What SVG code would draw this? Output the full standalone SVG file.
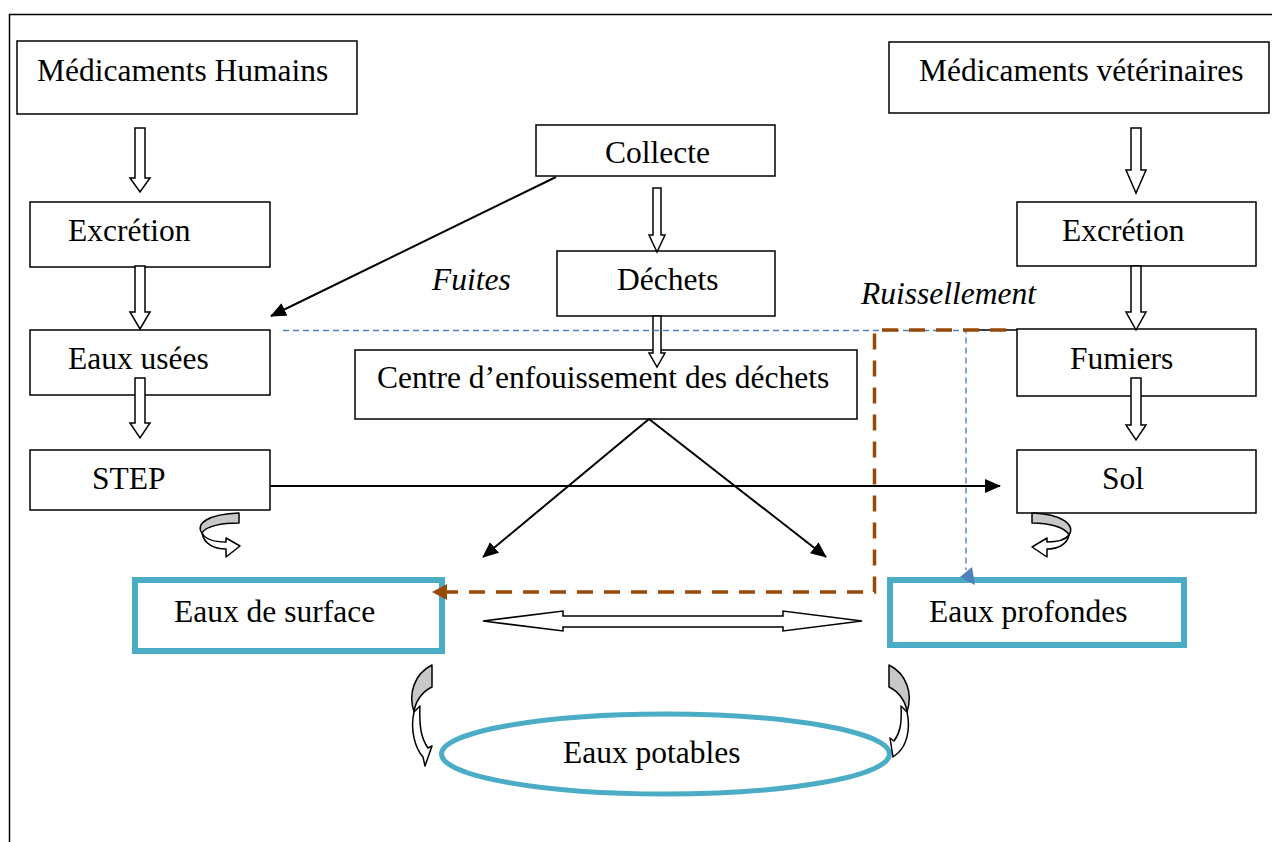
<svg xmlns="http://www.w3.org/2000/svg" width="1272" height="842" viewBox="0 0 1272 842">
<style>
.box{fill:#fff;stroke:#000;stroke-width:1.5}
.water{fill:#fff;stroke:#4bacc6;stroke-width:6}
.t{font-family:"Liberation Serif","Times New Roman",serif;font-size:31.5px;fill:#000}
.it{font-style:italic}
.blk{fill:#fff;stroke:#000;stroke-width:1.5;stroke-linejoin:miter}
.curv{stroke:#000;stroke-width:1.5;stroke-linejoin:round}
.line{fill:none;stroke:#000;stroke-width:2}
</style>
<defs>
<marker id="ah" markerWidth="16" markerHeight="14" viewBox="0 0 16 14" refX="15" refY="7" orient="auto" markerUnits="userSpaceOnUse">
<path d="M0,0 L16,7 L0,14 Z" fill="#000"/>
</marker>
</defs>
<rect width="1272" height="842" fill="#fff"/>
<path d="M9.5,842 L9.5,14.5 L1272,14.5" fill="none" stroke="#000" stroke-width="1.5"/>

<g id="n-med-hum"><rect class="box" x="17" y="41" width="340" height="73"/><text class="t" x="37" y="81">Médicaments Humains</text></g>
<g id="n-excr-l"><rect class="box" x="30" y="202" width="240" height="65"/><text class="t" x="68" y="241">Excrétion</text></g>
<g id="n-eaux-usees"><rect class="box" x="30" y="330" width="240" height="65"/><text class="t" x="68" y="369">Eaux usées</text></g>
<g id="n-step"><rect class="box" x="30" y="450" width="240" height="60"/><text class="t" x="92" y="489">STEP</text></g>

<g id="n-collecte"><rect class="box" x="536" y="125" width="239" height="51"/><text class="t" x="605" y="163">Collecte</text></g>
<g id="n-dechets"><rect class="box" x="557" y="251" width="218" height="65"/><text class="t" x="617" y="290">Déchets</text></g>
<g id="n-centre"><rect class="box" x="355" y="350" width="502" height="69"/><text class="t" x="377" y="388">Centre d’enfouissement des déchets</text></g>

<g id="n-med-vet"><rect class="box" x="889" y="42" width="380" height="71"/><text class="t" x="919" y="81">Médicaments vétérinaires</text></g>
<g id="n-excr-r"><rect class="box" x="1017" y="202" width="239" height="64"/><text class="t" x="1062" y="241">Excrétion</text></g>
<g id="n-fumiers"><rect class="box" x="1017" y="329" width="239" height="67"/><text class="t" x="1070" y="369">Fumiers</text></g>
<g id="n-sol"><rect class="box" x="1017" y="450" width="239" height="63"/><text class="t" x="1102" y="489">Sol</text></g>

<g id="n-eaux-surface"><rect class="water" x="135" y="580" width="307" height="71"/><text class="t" x="174" y="622">Eaux de surface</text></g>
<g id="n-eaux-profondes"><rect class="water" x="890" y="580" width="294" height="65"/><text class="t" x="929" y="622">Eaux profondes</text></g>
<g id="n-eaux-potables"><ellipse cx="665.5" cy="754" rx="224" ry="40" fill="#fff" stroke="#4bacc6" stroke-width="5"/><text class="t" x="563" y="763">Eaux potables</text></g>

<g id="labels">
<text class="t it" x="432" y="290">Fuites</text>
<text class="t it" x="861" y="304">Ruissellement</text>
</g>

<g id="connectors">
<path class="blk" d="M135,128 H145 V178 H150 L140,192 L130,178 H135 Z"/>
<path class="blk" d="M135,266 H145 V312 H150 L140,329 L130,312 H135 Z"/>
<path class="blk" d="M135,378 H145 V423 H150 L140,438 L130,423 H135 Z"/>
<path class="blk" d="M653,188 H661 V235 H665 L657,252 L649,235 H653 Z"/>
<path class="blk" d="M653,316 H661 V353 H665 L657,367 L649,353 H653 Z"/>
<path class="blk" d="M1131,128 H1141 V170 H1146 L1136,193 L1126,170 H1131 Z"/>
<path class="blk" d="M1131,266 H1141 V312 H1146 L1136,330 L1126,312 H1131 Z"/>
<path class="blk" d="M1131,378 H1141 V425 H1146 L1136,440 L1126,425 H1131 Z"/>
<path class="blk" d="M483,621 L563,611 L563,616 L783,616 L783,611 L862,621 L783,631 L783,627 L563,627 L563,631 Z"/>

<line class="line" x1="556" y1="177" x2="271" y2="316" marker-end="url(#ah)"/>
<line class="line" x1="270" y1="486" x2="1000" y2="486" marker-end="url(#ah)"/>
<line class="line" x1="649" y1="419" x2="483" y2="557" marker-end="url(#ah)"/>
<line class="line" x1="649" y1="419" x2="826" y2="557" marker-end="url(#ah)"/>

<path d="M283,330.5 H966 V570" fill="none" stroke="#4f81bd" stroke-width="1.4" stroke-dasharray="6,4"/>
<path d="M960,577 L972,567 L975,585 Z" fill="#4f81bd"/>

<line x1="975" y1="330" x2="1017" y2="330" stroke="#000" stroke-width="1.3"/>
<path d="M1006,330 H874.5 V592 H447" fill="none" stroke="#984807" stroke-width="3.5" stroke-dasharray="16,11"/>
<path d="M432,592 L447,584 L447,600 Z" fill="#984807"/>

<path class="curv" fill="#c8c8c8" d="M239,513 L239,523 C222,523 206,526 202,533 C195,524 208,514 239,513 Z"/>
<path class="curv" fill="#fff" d="M202,533 C204,544 214,549 226,549 L226,557 L240,546 L226,538 L226,542 C214,542 205,539 202,533 Z"/>

<path class="curv" fill="#c8c8c8" d="M1032,513 L1032,523 C1049,523 1065,527 1069,535 C1076,525 1062,514 1032,513 Z"/>
<path class="curv" fill="#fff" d="M1069,535 C1067,545 1057,549 1047,549 L1047,557 L1032,547 L1047,538 L1047,542 C1058,542 1066,539 1069,535 Z"/>

<path class="curv" fill="#c8c8c8" d="M432,665 L432,687 C421,692 415,703 414,712 C408,694 414,674 432,665 Z"/>
<path class="curv" fill="#fff" d="M414,712 C410,730 415,748 423,757 L425,766 L432,746 L428,748 C421,738 419,726 420,706 C418,708 416,710 414,712 Z"/>

<path class="curv" fill="#c8c8c8" d="M889,665 L889,687 C900,692 906,703 907,712 C913,694 907,674 889,665 Z"/>
<path class="curv" fill="#fff" d="M907,712 C911,730 906,746 898,753 L893,757 L890,738 L894,741 C900,733 902,724 901,706 C903,708 905,710 907,712 Z"/>
</g>
</svg>
